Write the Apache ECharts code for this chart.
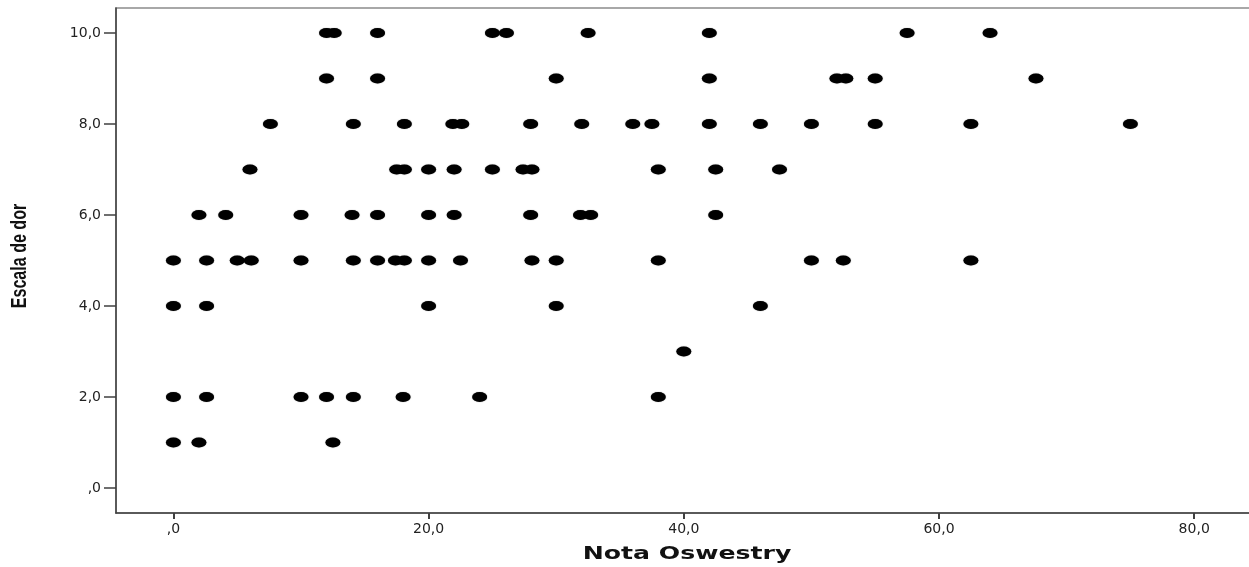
<!DOCTYPE html>
<html>
<head>
<meta charset="utf-8">
<script src="https://cdn.jsdelivr.net/npm/echarts@6/dist/echarts.min.js"></script>
<style>
html,body{margin:0;padding:0;background:#fff;}
#chart{width:1249px;height:567px;}
</style>
</head>
<body>
<div id="chart"></div>
<script>
// Nota Oswestry (x) and Escala de dor (y), one pair per point
const notaOswestry = [
  // dor 10
  12.0, 12.6, 16.0, 25.0, 26.1, 32.5, 42.0, 57.5, 64.0,
  // dor 9
  12.0, 16.0, 30.0, 42.0, 52.0, 52.7, 55.0, 67.6,
  // dor 8
  7.6, 14.1, 18.1, 21.9, 22.6, 28.0, 32.0, 36.0, 37.5, 42.0, 46.0, 50.0, 55.0, 62.5, 75.0,
  // dor 7
  6.0, 17.5, 18.1, 20.0, 22.0, 25.0, 27.4, 28.1, 38.0, 42.5, 47.5,
  // dor 6
  2.0, 4.1, 10.0, 14.0, 16.0, 20.0, 22.0, 28.0, 31.9, 32.7, 42.5,
  // dor 5
  0.0, 2.6, 5.0, 6.1, 10.0, 14.1, 16.0, 17.4, 18.1, 20.0, 22.5, 28.1, 30.0, 38.0, 50.0, 52.5, 62.5,
  // dor 4
  0.0, 2.6, 20.0, 30.0, 46.0,
  // dor 3
  40.0,
  // dor 2
  0.0, 2.6, 10.0, 12.0, 14.1, 18.0, 24.0, 38.0,
  // dor 1
  0.0, 2.0, 12.5
];
const escalaDor = [
  10, 10, 10, 10, 10, 10, 10, 10, 10,
  9, 9, 9, 9, 9, 9, 9, 9,
  8, 8, 8, 8, 8, 8, 8, 8, 8, 8, 8, 8, 8, 8, 8,
  7, 7, 7, 7, 7, 7, 7, 7, 7, 7, 7,
  6, 6, 6, 6, 6, 6, 6, 6, 6, 6, 6,
  5, 5, 5, 5, 5, 5, 5, 5, 5, 5, 5, 5, 5, 5, 5, 5, 5,
  4, 4, 4, 4, 4,
  3,
  2, 2, 2, 2, 2, 2, 2, 2,
  1, 1, 1
];
const xTicks = [0, 20, 40, 60, 80];
const yTicks = [0, 2, 4, 6, 8, 10];
const xTitle = 'Nota Oswestry';
const yTitle = 'Escala de dor';

const fmt = v => (v === 0 ? ',0' : Number(v).toFixed(1).replace('.', ','));
const points = notaOswestry.map((x, i) => [x, escalaDor[i]]);

const chart = echarts.init(document.getElementById('chart'), null, {renderer: 'canvas'});
chart.setOption({
  animation: false,
  backgroundColor: '#ffffff',
  grid: {
    left: 116, right: -9, top: 8, bottom: 54,
    outerBoundsMode: 'none', containLabel: false,
    show: true, borderColor: '#8c8c8c', borderWidth: 1.5, backgroundColor: 'transparent'
  },
  xAxis: {
    type: 'value', min: -4.5, max: 85,
    splitLine: {show: false},
    axisLine: {show: true, onZero: false, lineStyle: {color: '#404040', width: 1.5}},
    axisTick: {show: true, inside: false, length: 6, customValues: xTicks,
      lineStyle: {color: '#404040', width: 2}},
    axisLabel: {show: true, customValues: xTicks, formatter: fmt, margin: 9,
      fontFamily: 'DejaVu Sans', fontSize: 14, color: '#222'}
  },
  yAxis: {
    type: 'value', min: -0.55, max: 10.55,
    splitLine: {show: false},
    axisLine: {show: true, onZero: false, lineStyle: {color: '#404040', width: 1.5}},
    axisTick: {show: true, inside: false, length: 12, customValues: yTicks,
      lineStyle: {color: '#404040', width: 1.5}},
    axisLabel: {show: true, customValues: yTicks, formatter: fmt, margin: 15,
      fontFamily: 'DejaVu Sans', fontSize: 14, color: '#222'}
  },
  graphic: [
    {type: 'text', x: 687, y: 555, scaleX: 1.48,
      style: {text: xTitle, fontFamily: 'DejaVu Sans', fontWeight: 'bold', fontSize: 17,
        fill: '#111', align: 'center', verticalAlign: 'middle'}},
    {type: 'text', x: 20, y: 256, rotation: Math.PI / 2, scaleX: 0.73,
      style: {text: yTitle, fontFamily: '"Liberation Sans", Arial, sans-serif',
        fontWeight: 'bold', fontSize: 22, fill: '#111', align: 'center', verticalAlign: 'middle'}}
  ],
  series: [{
    type: 'scatter',
    data: points,
    symbol: 'circle',
    symbolSize: [15, 10],
    itemStyle: {color: '#000', opacity: 1, shadowBlur: 1, shadowColor: 'rgba(0,0,0,0.5)'}
  }]
});
</script>
</body>
</html>
